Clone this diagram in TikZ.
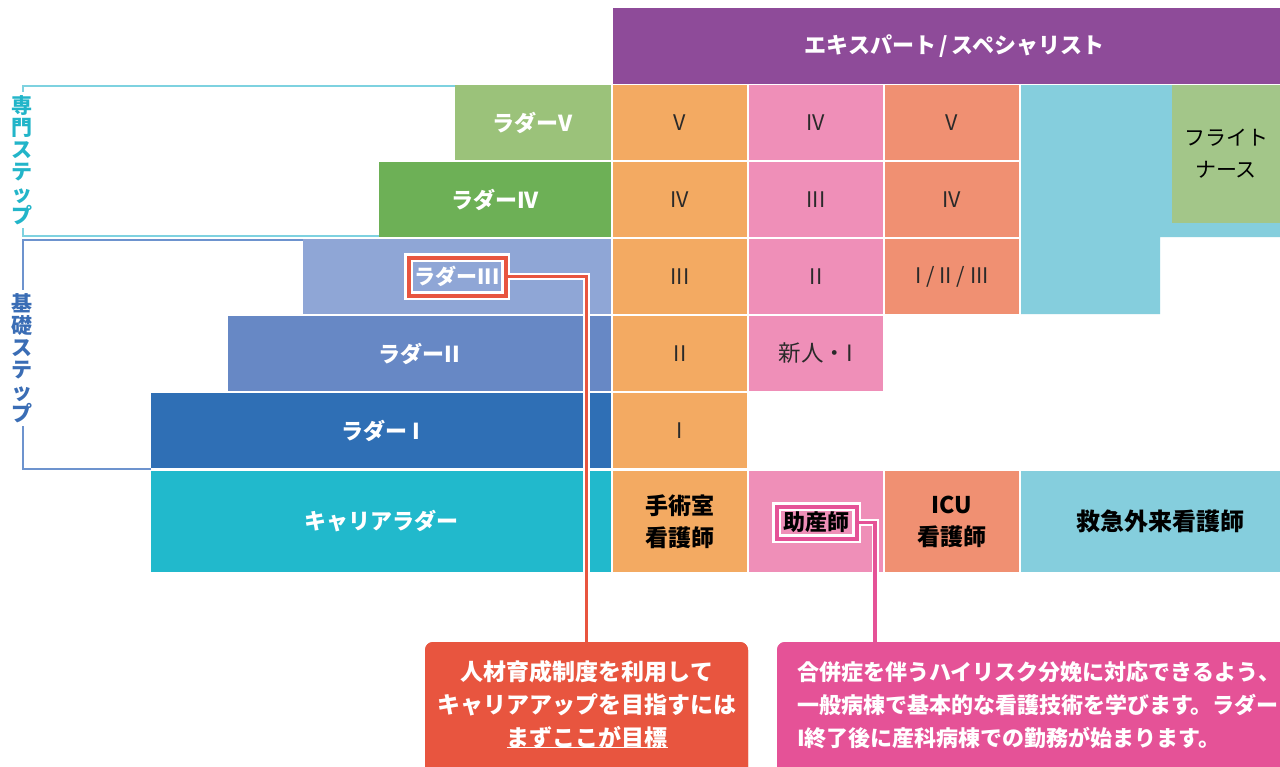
\documentclass[tikz,border=0pt]{standalone}
\usepackage{fontspec}
\setmainfont{Noto Sans CJK JP}
\definecolor{purp}{HTML}{8E4B99}
\definecolor{lv5}{HTML}{9BC27A}
\definecolor{lv4}{HTML}{6DB056}
\definecolor{lv3}{HTML}{8FA6D6}
\definecolor{lv2}{HTML}{6788C5}
\definecolor{lv1}{HTML}{2F6FB5}
\definecolor{career}{HTML}{21B9CC}
\definecolor{orng}{HTML}{F3AA62}
\definecolor{pnk}{HTML}{EF8FB8}
\definecolor{salm}{HTML}{F09072}
\definecolor{lblue}{HTML}{85CEDD}
\definecolor{fgreen}{HTML}{A3C689}
\definecolor{redc}{HTML}{E8553F}
\definecolor{pinkc}{HTML}{E55297}
\definecolor{brcyan}{HTML}{7ED2E0}
\definecolor{txcyan}{HTML}{22B5C9}
\definecolor{brblue}{HTML}{6D93CE}
\definecolor{txblue}{HTML}{3A6DB5}
\definecolor{txt}{HTML}{2A2A2A}
\begin{document}
\begin{tikzpicture}[x=1pt,y=-1pt,
  every node/.style={inner sep=0pt,outer sep=0pt},
  bar/.style={fill=#1,text=white,font=\bfseries\fontsize{22}{24}\selectfont,minimum height=75},
  cell/.style={fill=#1,text=txt,font=\fontsize{21.5}{24}\selectfont,minimum width=134,minimum height=75},
  bcell/.style={fill=#1,text=black,font=\bfseries\fontsize{23}{32}\selectfont,align=center,minimum height=101},
  brk/.style={draw=#1,line width=1.2},
  vlabel/.style={fill=white,text=#1,font=\bfseries\fontsize{21}{22}\selectfont,align=center,inner xsep=1,inner ysep=3},
  callout/.style={fill=#1,rounded corners=8,minimum height=140},
  calltext/.style={text=white,font=\bfseries\fontsize{23}{33}\selectfont},
  hlred/.style={draw=redc,line width=4,minimum width=97,minimum height=38,preaction={draw=white,line width=9}},
  hlpink/.style={draw=pinkc,line width=4,minimum width=80,minimum height=32,preaction={draw=white,line width=9}},
]
\clip (0,0) rectangle (1280,766);
\fill[white] (0,0) rectangle (1280,766);

% brackets
\draw[brk=brcyan] (455,86) -- (23,86) -- (23,236) -- (379,236);
\draw[brk=brblue] (303,240) -- (23,240) -- (23,469) -- (151,469);
\node[vlabel=txcyan] (senmon) at (22,160) {専\\門\\ス\\テ\\ッ\\プ};
\node[vlabel=txblue] (kiso) at (22,358) {基\\礎\\ス\\テ\\ッ\\プ};

% header
\node[fill=purp,minimum width=683,minimum height=76,text=white,font=\bfseries\fontsize{22}{24}\selectfont] (head) at (954.5,46) {エキスパート\,/\,スペシャリスト};

% ladder bars
\node[bar=lv5,minimum width=156] (lad5) at (533,122.5) {ラダーV};
\node[bar=lv4,minimum width=232] (lad4) at (495,199.5) {ラダーIV};
\node[bar=lv3,minimum width=308] (lad3) at (457,276.5) {};
\node[bar=lv2,minimum width=383] (lad2) at (419.5,353.5) {ラダーII};
\node[bar=lv1,minimum width=460] (lad1) at (381,430.5) {ラダー I};
\node[bar=career,minimum width=460,minimum height=101] (carl) at (381,521.5) {キャリアラダー};

% column 1
\node[cell=orng] (o5) at (680,122.5) {V};
\node[cell=orng] (o4) at (680,199.5) {IV};
\node[cell=orng] (o3) at (680,276.5) {III};
\node[cell=orng] (o2) at (680,353.5) {II};
\node[cell=orng] (o1) at (680,430.5) {I};
% column 2
\node[cell=pnk] (p5) at (816,122.5) {IV};
\node[cell=pnk] (p4) at (816,199.5) {III};
\node[cell=pnk] (p3) at (816,276.5) {II};
\node[cell=pnk,font=\fontsize{22.5}{24}\selectfont] (p2) at (816,353.5) {新人・I};
% column 3
\node[cell=salm] (s5) at (952,122.5) {V};
\node[cell=salm] (s4) at (952,199.5) {IV};
\node[cell=salm] (s3) at (952,276.5) {I / II / III};
% column 4
\fill[lblue] (1021,85) -- (1280,85) -- (1280,237) -- (1160,237) -- (1160,314) -- (1021,314) -- cycle;
\node[fill=fgreen,minimum width=108,minimum height=138,text=black,align=center,font=\fontsize{21}{32}\selectfont] (flight) at (1226,154) {フライト\\ナース};

% bottom row
\node[bcell=orng,minimum width=134] (ob) at (680,521.5) {手術室\\看護師};
\node[bcell=pnk,minimum width=134] (pb) at (816,521.5) {};
\node[bcell=salm,minimum width=134] (sb) at (952,521.5) {ICU\\看護師};
\node[bcell=lblue,minimum width=279,font=\bfseries\fontsize{24}{32}\selectfont] (bb) at (1160.5,521.5) {救急外来看護師};

% callouts
\node[callout=redc,minimum width=323] (redcall) at (586.5,712) {};
\node[callout=pinkc,minimum width=520] (pinkcall) at (1037,712) {};
\coordinate (pk) at (875,642);

% highlight boxes
\node[hlred,text=white,font=\bfseries\fontsize{21}{24}\selectfont] (l3t) at (457,276.5) {ラダーIII};
\node[hlpink,text=black,font=\bfseries\fontsize{22}{24}\selectfont] (jbox) at (816.5,522.5) {助産師};

% connectors
\draw[white,line width=7] ([xshift=4]l3t.east) -| (redcall.north);
\draw[redc,line width=3.5] (l3t.east) -| (redcall.north);
\draw[white,line width=7] ([xshift=4]jbox.east) -| (pk);
\draw[pinkc,line width=3.5] (jbox.east) -| (pk);
\fill[redc,rounded corners=8] (425,642) rectangle (748,790);
\fill[pinkc,rounded corners=8] (777,642) rectangle (1300,790);

% callout texts
\node[calltext] (r1) at (587,672) {人材育成制度を利用して};
\node[calltext] (r2) at (587,705) {キャリアアップを目指すには};
\node[calltext] (r3) at (587,738) {まずここが目標};
\draw[white,line width=1.5] ([yshift=2]r3.south west) -- ([yshift=2]r3.south east);
\node[calltext,anchor=west,align=left,font=\bfseries\fontsize{22}{33}\selectfont] (ptext) at (797,705) {合併症を伴うハイリスク分娩に対応できるよう、\\一般病棟で基本的な看護技術を学びます。ラダー\\I終了後に産科病棟での勤務が始まります。};
\end{tikzpicture}
\end{document}
